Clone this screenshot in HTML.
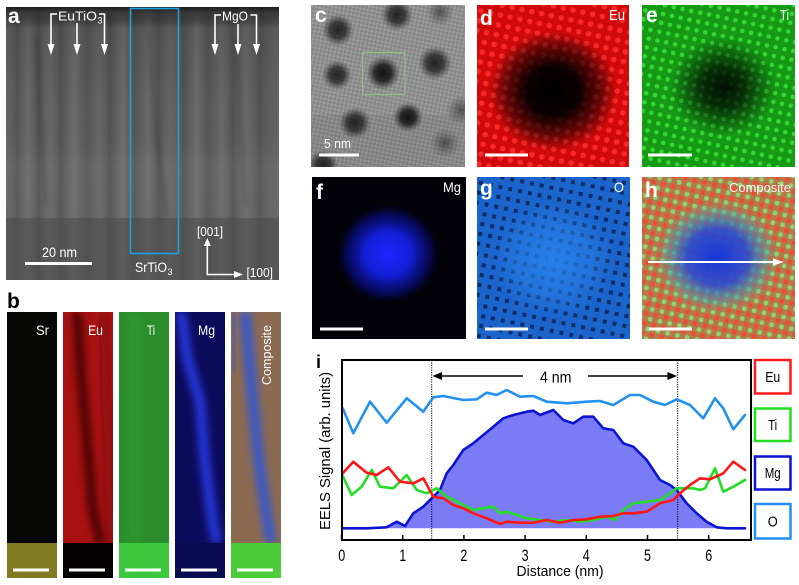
<!DOCTYPE html>
<html><head><meta charset="utf-8"><style>
html,body{margin:0;padding:0;background:#fff;}
svg{display:block;}
text{font-family:"Liberation Sans",Arial,sans-serif;}
</style></head><body>
<svg width="799" height="585" viewBox="0 0 799 585" xmlns="http://www.w3.org/2000/svg">
<defs>
  <linearGradient id="cols" x1="0" x2="1" y1="0" y2="0">
    <stop offset="0" stop-color="#fff" stop-opacity="0.05"/>
    <stop offset="0.04" stop-color="#000" stop-opacity="0.1"/>
    <stop offset="0.08" stop-color="#fff" stop-opacity="0.08"/>
    <stop offset="0.12" stop-color="#000" stop-opacity="0.12"/>
    <stop offset="0.16" stop-color="#fff" stop-opacity="0.06"/>
    <stop offset="0.2" stop-color="#000" stop-opacity="0.1"/>
    <stop offset="0.25" stop-color="#fff" stop-opacity="0.1"/>
    <stop offset="0.3" stop-color="#000" stop-opacity="0.08"/>
    <stop offset="0.34" stop-color="#fff" stop-opacity="0.05"/>
    <stop offset="0.38" stop-color="#000" stop-opacity="0.12"/>
    <stop offset="0.43" stop-color="#fff" stop-opacity="0.1"/>
    <stop offset="0.47" stop-color="#000" stop-opacity="0.08"/>
    <stop offset="0.52" stop-color="#fff" stop-opacity="0.08"/>
    <stop offset="0.56" stop-color="#000" stop-opacity="0.1"/>
    <stop offset="0.6" stop-color="#fff" stop-opacity="0.05"/>
    <stop offset="0.65" stop-color="#000" stop-opacity="0.1"/>
    <stop offset="0.7" stop-color="#fff" stop-opacity="0.1"/>
    <stop offset="0.74" stop-color="#000" stop-opacity="0.08"/>
    <stop offset="0.79" stop-color="#fff" stop-opacity="0.07"/>
    <stop offset="0.83" stop-color="#000" stop-opacity="0.12"/>
    <stop offset="0.88" stop-color="#fff" stop-opacity="0.08"/>
    <stop offset="0.93" stop-color="#000" stop-opacity="0.1"/>
    <stop offset="1" stop-color="#fff" stop-opacity="0.05"/>
  </linearGradient>
  <linearGradient id="avert" x1="0" x2="0" y1="0" y2="1">
    <stop offset="0" stop-color="#1e1e1e" stop-opacity="1"/>
    <stop offset="0.03" stop-color="#2a2a2a" stop-opacity="0.7"/>
    <stop offset="0.1" stop-color="#000" stop-opacity="0.1"/>
    <stop offset="0.5" stop-color="#000" stop-opacity="0"/>
    <stop offset="0.75" stop-color="#fff" stop-opacity="0.05"/>
    <stop offset="1" stop-color="#fff" stop-opacity="0.04"/>
  </linearGradient>
  <radialGradient id="dot">
    <stop offset="0" stop-color="#111" stop-opacity="1"/>
    <stop offset="0.5" stop-color="#1a1a1a" stop-opacity="0.85"/>
    <stop offset="1" stop-color="#333" stop-opacity="0"/>
  </radialGradient>
  <radialGradient id="dotf">
    <stop offset="0" stop-color="#333" stop-opacity="0.7"/>
    <stop offset="1" stop-color="#444" stop-opacity="0"/>
  </radialGradient>
  <radialGradient id="blk">
    <stop offset="0" stop-color="#000" stop-opacity="1"/>
    <stop offset="0.4" stop-color="#000" stop-opacity="0.95"/>
    <stop offset="0.75" stop-color="#000" stop-opacity="0.5"/>
    <stop offset="1" stop-color="#000" stop-opacity="0"/>
  </radialGradient>
  <radialGradient id="blkE">
    <stop offset="0" stop-color="#000" stop-opacity="0.9"/>
    <stop offset="0.4" stop-color="#000" stop-opacity="0.7"/>
    <stop offset="1" stop-color="#000" stop-opacity="0"/>
  </radialGradient>
  <radialGradient id="mgb">
    <stop offset="0" stop-color="#1a26ff" stop-opacity="1"/>
    <stop offset="0.45" stop-color="#1420e0" stop-opacity="0.95"/>
    <stop offset="0.8" stop-color="#0a10a0" stop-opacity="0.5"/>
    <stop offset="1" stop-color="#000040" stop-opacity="0"/>
  </radialGradient>
  <radialGradient id="og">
    <stop offset="0" stop-color="#2a86ee" stop-opacity="0.85"/>
    <stop offset="0.6" stop-color="#2a80e8" stop-opacity="0.55"/>
    <stop offset="1" stop-color="#2a80e8" stop-opacity="0"/>
  </radialGradient>
  <radialGradient id="hb">
    <stop offset="0" stop-color="#1636d8" stop-opacity="1"/>
    <stop offset="0.5" stop-color="#2a4ad0" stop-opacity="0.9"/>
    <stop offset="0.8" stop-color="#40a0b0" stop-opacity="0.5"/>
    <stop offset="1" stop-color="#60b090" stop-opacity="0"/>
  </radialGradient>
  <pattern id="pd" width="10" height="10" patternUnits="userSpaceOnUse" patternTransform="rotate(12)">
    <rect width="10" height="10" fill="#d00a0a"/>
    <circle cx="5" cy="5" r="2.8" fill="#fa2828"/>
  </pattern>
  <pattern id="pe" width="9" height="9" patternUnits="userSpaceOnUse" patternTransform="rotate(12)">
    <rect width="9" height="9" fill="#169a16"/>
    <circle cx="4.5" cy="4.5" r="2.3" fill="#34d834"/>
  </pattern>
  <pattern id="pg" width="10" height="10" patternUnits="userSpaceOnUse" patternTransform="rotate(12)">
    <rect width="10" height="10" fill="#1a64cc"/>
    <rect x="3" y="3" width="4" height="4" fill="#0c2c66"/>
  </pattern>
  <pattern id="ph" width="10" height="10" patternUnits="userSpaceOnUse" patternTransform="rotate(12)">
    <rect width="10" height="10" fill="#b47a4c"/>
    <circle cx="2.5" cy="2.5" r="2.4" fill="#f04a30"/>
    <circle cx="7.5" cy="7.5" r="2.4" fill="#90d470"/>
  </pattern>
  <pattern id="pc" width="4" height="4" patternUnits="userSpaceOnUse" patternTransform="rotate(12)">
    <rect width="4" height="4" fill="#909090"/>
    <rect width="2" height="2" fill="#9e9e9e"/>
    <rect x="2" y="2" width="2" height="2" fill="#848484"/>
  </pattern>
  <filter id="bl6" x="-50%" y="-50%" width="200%" height="200%"><feGaussianBlur stdDeviation="4"/></filter>
  <filter id="bl3" x="-50%" y="-50%" width="200%" height="200%"><feGaussianBlur stdDeviation="2.5"/></filter>
</defs>

<!-- ===== Panel a ===== -->
<svg x="6" y="7" width="273" height="273">
  <rect width="273" height="273" fill="#5c5c5c"/>
  <rect width="273" height="211" fill="url(#cols)"/>
  <rect y="211" width="273" height="62" fill="#545454"/>
  <rect y="211" width="273" height="62" fill="url(#cols)" opacity="0.5"/>
  <rect width="273" height="211" fill="url(#avert)"/>
  <g stroke="#000" stroke-opacity="0.12" stroke-width="4" fill="none" filter="url(#bl3)">
    <path d="M142 20 L150 120 L160 210"/>
    <path d="M30 30 L40 200"/>
    <path d="M230 30 L240 200"/>
  </g>
</svg>
<rect x="130.5" y="8.5" width="48" height="245" fill="none" stroke="#1fa0dc" stroke-width="1.6"/>
<text x="8" y="23" font-size="21" font-weight="bold" fill="#fff">a</text>
<g stroke="#fff" stroke-width="1.6" fill="none">
  <path d="M57 14 H51 V45"/>
  <path d="M77 23 V45"/>
  <path d="M99 14 H104.5 V45"/>
  <path d="M221 15 H215 V45"/>
  <path d="M238 24 V45"/>
  <path d="M250.5 15 H256.5 V45"/>
  <path d="M207.3 242 V274.5 H236"/>
  <line x1="25" y1="263.5" x2="92" y2="263.5" stroke-width="3"/>
</g>
<g fill="#fff">
  <polygon points="47.5,44 54.5,44 51,55"/>
  <polygon points="73.5,44 80.5,44 77,55"/>
  <polygon points="101,44 108,44 104.5,55"/>
  <polygon points="211.5,44 218.5,44 215,55"/>
  <polygon points="234.5,44 241.5,44 238,55"/>
  <polygon points="253,44 260,44 256.5,55"/>
  <polygon points="203.8,246 210.8,246 207.3,238"/>
  <polygon points="234,271 234,278 243,274.5"/>
</g>
<text x="58" y="20.5" font-size="13" fill="#fff" textLength="39" lengthAdjust="spacingAndGlyphs">EuTiO</text>
<text x="97.5" y="23.5" font-size="9" fill="#fff">3</text>
<text x="222" y="20.5" font-size="13" fill="#fff" textLength="26" lengthAdjust="spacingAndGlyphs">MgO</text>
<text x="42" y="257" font-size="14" fill="#fff" textLength="35" lengthAdjust="spacingAndGlyphs">20 nm</text>
<text x="135" y="272" font-size="14" fill="#fff" textLength="32" lengthAdjust="spacingAndGlyphs">SrTiO</text>
<text x="167.5" y="275" font-size="9" fill="#fff">3</text>
<text x="197" y="236" font-size="13" fill="#fff" textLength="26" lengthAdjust="spacingAndGlyphs">[001]</text>
<text x="246.5" y="277" font-size="13" fill="#fff" textLength="26.5" lengthAdjust="spacingAndGlyphs">[100]</text>

<!-- ===== Panel b ===== -->
<text x="7" y="308" font-size="21" font-weight="bold" fill="#000">b</text>
<svg x="7" y="312" width="50" height="266">
  <rect width="50" height="266" fill="#060604"/>
  <rect y="231" width="50" height="35" fill="#807a22"/>
</svg>
<svg x="63" y="312" width="50" height="266">
  <rect width="50" height="266" fill="#a81212"/>
  <path d="M14 0 L18 60 L24 130 L30 200 L38 232" stroke="#3a0505" stroke-width="9" fill="none" filter="url(#bl6)" opacity="0.9"/>
  <path d="M40 0 L44 120 L48 232" stroke="#700808" stroke-width="7" fill="none" filter="url(#bl6)" opacity="0.6"/>
  <rect y="231" width="50" height="35" fill="#050202"/>
</svg>
<svg x="119" y="312" width="50" height="266">
  <rect width="50" height="266" fill="#2a8e2a"/>
  <rect x="8" y="0" width="14" height="231" fill="#33a033" opacity="0.5" filter="url(#bl6)"/>
  <rect y="231" width="50" height="35" fill="#3cc83c"/>
</svg>
<svg x="175" y="312" width="50" height="266">
  <rect width="50" height="266" fill="#0c0c5c"/>
  <path d="M6 0 L12 45 L25 90 L30 150 L38 213 L42 231" stroke="#2838e0" stroke-width="10" fill="none" filter="url(#bl6)"/>
  <rect y="231" width="50" height="35" fill="#0a0a50"/>
</svg>
<svg x="231" y="312" width="50" height="266">
  <rect width="50" height="266" fill="#8c6a52"/>
  <path d="M14 0 L18 45 L22 90 L28 150 L36 206 L40 231" stroke="#3858c8" stroke-width="11" fill="none" filter="url(#bl6)"/>
  <path d="M2 0 L4 60" stroke="#3858c8" stroke-width="6" fill="none" filter="url(#bl6)" opacity="0.7"/>
  <rect y="231" width="50" height="35" fill="#4ccc38"/>
</svg>
<g fill="#fff" font-size="14">
  <text x="36" y="335" textLength="13" lengthAdjust="spacingAndGlyphs">Sr</text>
  <text x="88" y="335" textLength="15" lengthAdjust="spacingAndGlyphs">Eu</text>
  <text x="147" y="335" textLength="8" lengthAdjust="spacingAndGlyphs">Ti</text>
  <text x="198" y="335" textLength="17" lengthAdjust="spacingAndGlyphs">Mg</text>
  <text transform="translate(271,355) rotate(-90)" text-anchor="middle" font-size="13" textLength="60" lengthAdjust="spacingAndGlyphs">Composite</text>
</g>
<g stroke="#fff" stroke-width="3">
  <line x1="13" y1="570" x2="49" y2="570"/>
  <line x1="69" y1="570" x2="105" y2="570"/>
  <line x1="125" y1="570" x2="161" y2="570"/>
  <line x1="181" y1="570" x2="217" y2="570"/>
  <line x1="237" y1="570" x2="273" y2="570"/>
</g>

<!-- ===== Panel c ===== -->
<svg x="311" y="5" width="154" height="162">
  <rect width="154" height="162" fill="url(#pc)"/>
  <rect y="110" width="154" height="52" fill="#000" opacity="0.06"/>
  <circle cx="27" cy="25" r="16" fill="url(#dot)" opacity="0.85"/>
  <circle cx="86" cy="10" r="16" fill="url(#dot)" opacity="0.85"/>
  <circle cx="129" cy="7" r="14" fill="url(#dotf)"/>
  <circle cx="26" cy="70" r="15" fill="url(#dot)" opacity="0.85"/>
  <circle cx="72" cy="68" r="17" fill="url(#dot)"/>
  <circle cx="124" cy="58" r="17" fill="url(#dot)" opacity="0.85"/>
  <circle cx="44" cy="118" r="16" fill="url(#dot)" opacity="0.85"/>
  <circle cx="97" cy="112" r="15" fill="url(#dot)"/>
  <circle cx="150" cy="105" r="15" fill="url(#dotf)"/>
  <circle cx="134" cy="138" r="15" fill="url(#dotf)"/>
  <circle cx="12" cy="160" r="15" fill="url(#dot)" opacity="0.85"/>
</svg>
<rect x="362.5" y="52.5" width="42.5" height="42" fill="none" stroke="#90c080" stroke-width="1.2"/>
<text x="315" y="22" font-size="21" font-weight="bold" fill="#fff">c</text>
<text x="324" y="148" font-size="13" fill="#fff" textLength="27" lengthAdjust="spacingAndGlyphs">5 nm</text>
<line x1="319" y1="155" x2="359" y2="155" stroke="#fff" stroke-width="3"/>

<!-- ===== Panel d ===== -->
<svg x="477" y="5" width="152" height="162">
  <rect width="152" height="162" fill="url(#pd)"/>
  <ellipse cx="76" cy="86" rx="64" ry="60" fill="url(#blk)"/>
</svg>
<text x="480" y="25" font-size="21" font-weight="bold" fill="#fff">d</text>
<text x="609" y="20" font-size="15" fill="#fff" textLength="16" lengthAdjust="spacingAndGlyphs">Eu</text>
<line x1="485" y1="155" x2="528" y2="155" stroke="#fff" stroke-width="3"/>

<!-- ===== Panel e ===== -->
<svg x="642" y="5" width="153" height="162">
  <rect width="153" height="162" fill="url(#pe)"/>
  <ellipse cx="81" cy="82" rx="54" ry="50" fill="url(#blkE)"/>
</svg>
<text x="646" y="22" font-size="21" font-weight="bold" fill="#fff">e</text>
<text x="780" y="20" font-size="15" fill="#fff" textLength="9" lengthAdjust="spacingAndGlyphs">Ti</text>
<line x1="648" y1="155" x2="692" y2="155" stroke="#fff" stroke-width="3"/>

<!-- ===== Panel f ===== -->
<svg x="312" y="177" width="154" height="162">
  <rect width="154" height="162" fill="#020208"/>
  <ellipse cx="76" cy="77" rx="52" ry="50" fill="url(#mgb)"/>
</svg>
<text x="316" y="199" font-size="21" font-weight="bold" fill="#fff">f</text>
<text x="443" y="192" font-size="14" fill="#fff" textLength="18" lengthAdjust="spacingAndGlyphs">Mg</text>
<line x1="320" y1="329" x2="363" y2="329" stroke="#fff" stroke-width="3"/>

<!-- ===== Panel g ===== -->
<svg x="477" y="177" width="153" height="162">
  <rect width="153" height="162" fill="url(#pg)"/>
  <ellipse cx="76" cy="83" rx="62" ry="58" fill="url(#og)"/>
</svg>
<text x="480" y="195" font-size="21" font-weight="bold" fill="#fff">g</text>
<text x="614" y="192" font-size="14" fill="#fff" textLength="10" lengthAdjust="spacingAndGlyphs">O</text>
<line x1="485" y1="329" x2="528" y2="329" stroke="#fff" stroke-width="3"/>

<!-- ===== Panel h ===== -->
<svg x="642" y="177" width="153" height="162">
  <rect width="153" height="162" fill="url(#ph)"/>
  <ellipse cx="75" cy="80" rx="62" ry="56" fill="url(#hb)"/>
</svg>
<text x="645" y="197" font-size="21" font-weight="bold" fill="#fff">h</text>
<text x="729" y="192" font-size="13" fill="#fff" textLength="62" lengthAdjust="spacingAndGlyphs">Composite</text>
<line x1="648" y1="262" x2="775" y2="262" stroke="#fff" stroke-width="2"/>
<polygon points="773,258.5 773,265.5 784,262" fill="#fff"/>
<line x1="649" y1="329" x2="692" y2="329" stroke="#fff" stroke-width="3"/>

<!-- ===== Panel i chart ===== -->
<text x="316" y="368" font-size="18" font-weight="bold" fill="#000">i</text>
<polygon fill="#7b7bf6" points="342.7,528.3 366.7,528.3 386.7,527.3 396.7,521.7 405,526 413.3,513.3 423.3,506.7 433.3,496.7 440,490 446.7,473.3 453.3,465 463.3,450 473.3,443.3 483.3,435 493.3,426.7 503.3,418.3 513.3,415 526.7,411.7 533.3,410.7 540,415 553.3,410 563.3,420 573.3,423.3 583.3,416.7 593.3,416.7 603.3,428.3 613.3,430 623.3,443.3 633.3,446.7 646.7,460 660,480 670,485 676.7,490 686.7,503.3 696.7,513.3 706.7,521.7 716.7,527.3 726.7,528.3 745,528.3"/>
<g stroke="#000" stroke-width="1" stroke-dasharray="1.2,1.2">
  <line x1="431.7" y1="360" x2="431.7" y2="540"/>
  <line x1="677.7" y1="360" x2="677.7" y2="540"/>
</g>
<g fill="none" stroke-width="2.6" stroke-linejoin="round" stroke-linecap="round">
  <polyline stroke="#2290f0" points="342.7,408.3 353.3,433.3 370,401.7 386.7,422.7 406.7,398.3 423.3,411.7 433.3,397.3 443.3,396 463.3,400 476.7,399.3 486.7,392.7 496.7,395 506.7,390 520,396.7 533.3,396 546.7,401.7 566.7,403.3 586.7,401.7 600,401 613.3,405 630,395 640,395 653.3,401.7 665,405 676.7,399.3 690,405 703.3,418.3 715,398.3 723.3,408.3 733.3,429.3 745,415"/>
  <polyline stroke="#0a14d2" points="342.7,528.3 366.7,528.3 386.7,527.3 396.7,521.7 405,526 413.3,513.3 423.3,506.7 433.3,496.7 440,490 446.7,473.3 453.3,465 463.3,450 473.3,443.3 483.3,435 493.3,426.7 503.3,418.3 513.3,415 526.7,411.7 533.3,410.7 540,415 553.3,410 563.3,420 573.3,423.3 583.3,416.7 593.3,416.7 603.3,428.3 613.3,430 623.3,443.3 633.3,446.7 646.7,460 660,480 670,485 676.7,490 686.7,503.3 696.7,513.3 706.7,521.7 716.7,527.3 726.7,528.3 745,528.3"/>
  <polyline stroke="#22dd22" points="342.7,476 351.7,495 361.7,486.7 371.7,470 380,486.7 393.3,488.3 406.7,475 416.7,490 426.7,493.3 436.7,488.3 446.7,496.7 460,503.3 473.3,510 483.3,508.3 493.3,506.7 500,513.3 506.7,511.7 516.7,515 526.7,518.3 540,520 553.3,521.7 566.7,520 580,521.7 593.3,520 606.7,516.7 615,520 623.3,510 633.3,503.3 646.7,501.7 660,500 670,493.3 676.7,488.3 693.3,488.3 700,490 705,488.3 715,468.3 723.3,491.7 733.3,486.7 745,480"/>
  <polyline stroke="#ff1616" points="342.7,473.3 353.3,461.7 366.7,472.7 376.7,475 388.3,467.3 400,481.7 413.3,483.3 423.3,478.3 433.3,496.7 443.3,498.3 453.3,505 463.3,508.3 473.3,513.3 486.7,518.3 500,524 506.7,521.7 520,522.7 533.3,522.7 546.7,520 560,522.7 573.3,520 586.7,519.3 600,516.7 613.3,516 623.3,513.3 633.3,513.3 646.7,511.7 660,503.3 673.3,500 680,493.3 690,485 700,478.3 710,479.3 723.3,473.3 733.3,461.7 745,470"/>
</g>
<rect x="342" y="360" width="409" height="180" fill="none" stroke="#000" stroke-width="2"/>
<g stroke="#000" stroke-width="1.5">
  <line x1="341.5" y1="540" x2="341.5" y2="535"/>
  <line x1="402.7" y1="540" x2="402.7" y2="535"/>
  <line x1="463.9" y1="540" x2="463.9" y2="535"/>
  <line x1="525.1" y1="540" x2="525.1" y2="535"/>
  <line x1="586.3" y1="540" x2="586.3" y2="535"/>
  <line x1="647.5" y1="540" x2="647.5" y2="535"/>
  <line x1="708.7" y1="540" x2="708.7" y2="535"/>
</g>
<line x1="440" y1="376" x2="523" y2="376" stroke="#000" stroke-width="1.5"/>
<polygon points="432.5,376 442,372 442,380" fill="#000"/>
<line x1="588" y1="376" x2="669" y2="376" stroke="#000" stroke-width="1.5"/>
<polygon points="677,376 667.5,372 667.5,380" fill="#000"/>
<text x="555.7" y="382.5" font-size="16" text-anchor="middle" fill="#000" textLength="31.5" lengthAdjust="spacingAndGlyphs">4 nm</text>
<g font-size="17" fill="#000" text-anchor="middle">
  <text x="341.8" y="561" textLength="7" lengthAdjust="spacingAndGlyphs">0</text>
  <text x="402.7" y="561" textLength="7" lengthAdjust="spacingAndGlyphs">1</text>
  <text x="463.9" y="561" textLength="7" lengthAdjust="spacingAndGlyphs">2</text>
  <text x="525.1" y="561" textLength="7" lengthAdjust="spacingAndGlyphs">3</text>
  <text x="586.3" y="561" textLength="7" lengthAdjust="spacingAndGlyphs">4</text>
  <text x="647.5" y="561" textLength="7" lengthAdjust="spacingAndGlyphs">5</text>
  <text x="708.7" y="561" textLength="7" lengthAdjust="spacingAndGlyphs">6</text>
</g>
<text x="560" y="576" font-size="15" text-anchor="middle" fill="#000" textLength="87" lengthAdjust="spacingAndGlyphs">Distance (nm)</text>
<text transform="translate(330,451) rotate(-90)" font-size="15" text-anchor="middle" fill="#000" textLength="158" lengthAdjust="spacingAndGlyphs">EELS Signal (arb. units)</text>
<g fill="#fff" stroke-width="2.5">
  <rect x="755" y="360" width="35.5" height="33.5" stroke="#ff1a1a"/>
  <rect x="755" y="408.5" width="35.5" height="32.5" stroke="#22dd22"/>
  <rect x="755" y="456.5" width="35.5" height="33" stroke="#0a14d2"/>
  <rect x="755" y="504" width="35.5" height="34.5" stroke="#2290f0"/>
</g>
<g font-size="15" fill="#000" text-anchor="middle">
  <text x="772.7" y="382" textLength="15" lengthAdjust="spacingAndGlyphs">Eu</text>
  <text x="772.7" y="430" textLength="9" lengthAdjust="spacingAndGlyphs">Ti</text>
  <text x="772.7" y="478" textLength="16" lengthAdjust="spacingAndGlyphs">Mg</text>
  <text x="772.7" y="526.5" textLength="10" lengthAdjust="spacingAndGlyphs">O</text>
</g>
</svg>
</body></html>
